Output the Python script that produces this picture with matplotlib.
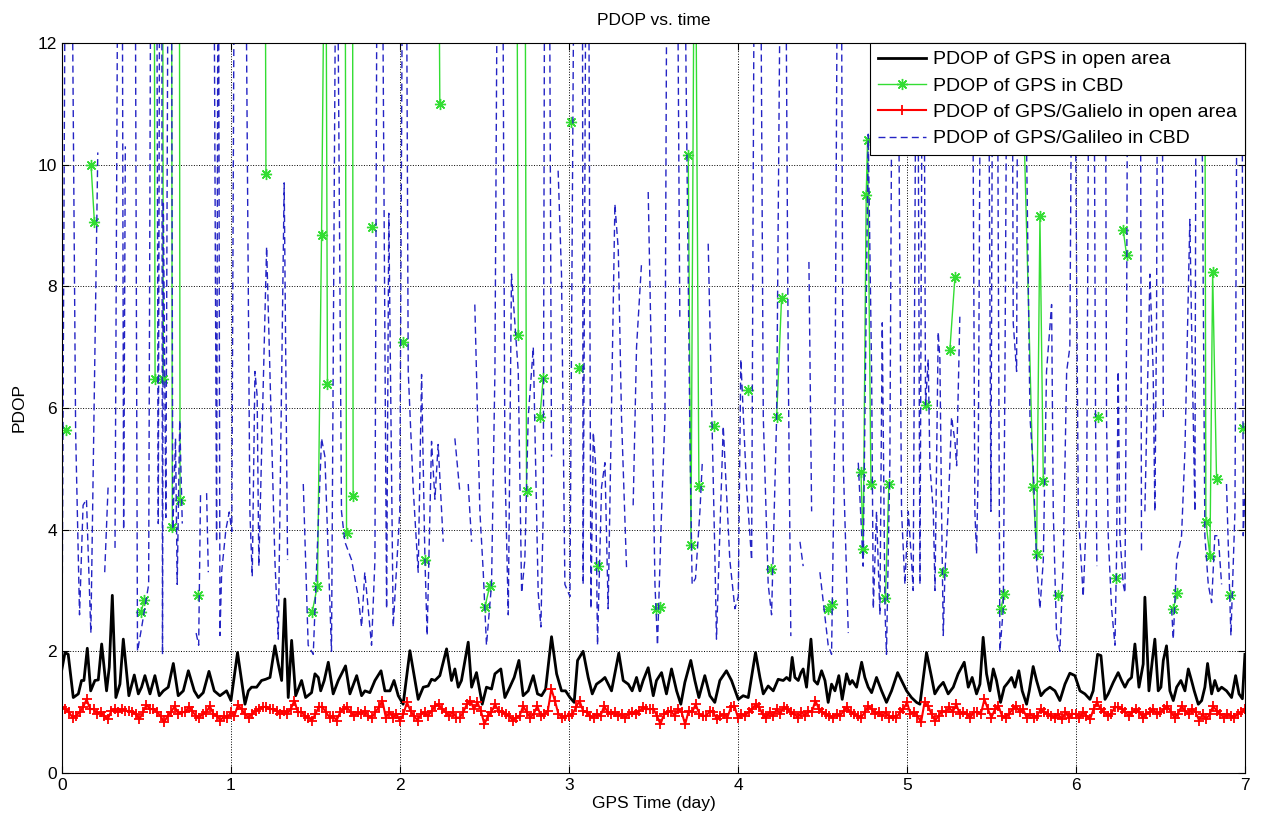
import matplotlib
matplotlib.use('Agg')
import matplotlib.pyplot as plt
import numpy as np

nan = np.nan

# PDOP of GPS in open area (vertices)
gps_open_t = [0.0, 0.018, 0.037, 0.067, 0.097, 0.116, 0.130, 0.150, 0.170, 0.195, 0.215, 0.235, 0.264, 0.280, 0.298, 0.319, 0.343, 0.363, 0.396, 0.428,
              0.452, 0.471, 0.491, 0.521, 0.550, 0.576, 0.600, 0.629, 0.659, 0.688, 0.718, 0.748, 0.783, 0.807, 0.836, 0.870, 0.901, 0.935, 0.974, 1.000,
              1.039, 1.063, 1.083, 1.103, 1.122, 1.152, 1.181, 1.205, 1.231, 1.260, 1.280, 1.300, 1.319, 1.339, 1.359, 1.383, 1.418, 1.442, 1.477, 1.497,
              1.517, 1.531, 1.552, 1.576, 1.605, 1.635, 1.678, 1.704, 1.744, 1.773, 1.793, 1.822, 1.852, 1.888, 1.911, 1.941, 1.965, 1.990,
              2.019, 2.059, 2.108, 2.138, 2.167, 2.187, 2.207, 2.236, 2.276, 2.305, 2.325, 2.345, 2.364, 2.404, 2.424, 2.453, 2.487, 2.512, 2.542, 2.562,
              2.597, 2.621, 2.650, 2.676, 2.704, 2.729, 2.759, 2.789, 2.814, 2.838, 2.862, 2.897, 2.927, 2.956, 2.980, 3.006, 3.031, 3.051, 3.084, 3.114,
              3.138, 3.163, 3.193, 3.213, 3.252, 3.295, 3.321, 3.351, 3.374, 3.400, 3.420, 3.439, 3.469, 3.499, 3.518, 3.548, 3.577, 3.607, 3.637, 3.662,
              3.686, 3.721, 3.745, 3.769, 3.804, 3.834, 3.863, 3.893, 3.932, 3.962, 4.002,
              4.031, 4.061, 4.104, 4.130, 4.150, 4.179, 4.209, 4.238, 4.268, 4.288, 4.307, 4.321, 4.337, 4.357, 4.373, 4.386, 4.406, 4.432, 4.451, 4.471,
              4.495, 4.515, 4.534, 4.554, 4.574, 4.597, 4.617, 4.643, 4.662, 4.676, 4.702, 4.732, 4.751, 4.771, 4.791, 4.820, 4.850, 4.879, 4.909, 4.945,
              4.968, 4.998, 5.027, 5.057, 5.077, 5.116, 5.146, 5.165, 5.189, 5.215, 5.244, 5.274, 5.303, 5.339, 5.363, 5.386, 5.412, 5.432, 5.451, 5.471,
              5.491, 5.511, 5.530, 5.554, 5.576, 5.599, 5.619, 5.639, 5.662, 5.682, 5.708, 5.724, 5.747, 5.767, 5.793, 5.816, 5.846, 5.876, 5.905, 5.935,
              5.964, 5.994, 6.024, 6.053, 6.083, 6.102, 6.128, 6.148, 6.172, 6.191, 6.221, 6.250, 6.270, 6.290, 6.310, 6.329, 6.349, 6.373, 6.398, 6.408,
              6.432, 6.452, 6.467, 6.487, 6.503, 6.517, 6.536, 6.556, 6.576, 6.596, 6.621, 6.645, 6.665, 6.684, 6.700, 6.724, 6.744, 6.763, 6.779, 6.803,
              6.822, 6.842, 6.862, 6.891, 6.921, 6.945, 6.965, 6.985, 7.0]
gps_open_v = [1.71, 1.98, 1.95, 1.24, 1.30, 1.52, 1.52, 2.05, 1.35, 1.52, 1.53, 2.12, 1.35, 1.74, 2.92, 1.24, 1.46, 2.20, 1.27, 1.61,
              1.30, 1.41, 1.60, 1.30, 1.60, 1.27, 1.35, 1.41, 1.80, 1.27, 1.35, 1.68, 1.35, 1.24, 1.32, 1.67, 1.35, 1.27, 1.35, 1.19,
              1.98, 1.52, 1.13, 1.35, 1.41, 1.41, 1.52, 1.54, 1.57, 2.09, 1.79, 1.52, 2.86, 1.24, 2.18, 1.27, 1.52, 1.24, 1.32, 1.63,
              1.57, 1.35, 1.52, 1.82, 1.30, 1.52, 1.76, 1.30, 1.60, 1.27, 1.35, 1.32, 1.52, 1.68, 1.35, 1.35, 1.52, 1.27,
              1.13, 2.01, 1.21, 1.41, 1.43, 1.54, 1.52, 1.60, 2.04, 1.52, 1.71, 1.41, 1.52, 2.15, 1.41, 1.65, 1.13, 1.41, 1.38, 1.63,
              1.71, 1.24, 1.41, 1.57, 1.85, 1.27, 1.35, 1.60, 1.30, 1.27, 1.38, 2.24, 1.63, 1.35, 1.35, 1.24, 1.16, 1.85, 2.00, 1.57,
              1.30, 1.46, 1.52, 1.57, 1.35, 1.97, 1.52, 1.46, 1.35, 1.57, 1.35, 1.52, 1.73, 1.27, 1.52, 1.65, 1.30, 1.71, 1.35, 1.13,
              1.49, 1.85, 1.52, 1.24, 1.60, 1.27, 1.16, 1.52, 1.68, 1.52, 1.21,
              1.27, 1.24, 1.98, 1.57, 1.30, 1.43, 1.35, 1.54, 1.52, 1.57, 1.52, 1.90, 1.57, 1.52, 1.65, 1.71, 1.41, 2.20, 1.52, 1.46,
              1.68, 1.52, 1.16, 1.46, 1.35, 1.60, 1.21, 1.63, 1.46, 1.52, 1.41, 1.82, 1.57, 1.41, 1.32, 1.57, 1.35, 1.16, 1.35, 1.65,
              1.52, 1.35, 1.24, 1.16, 1.13, 1.98, 1.57, 1.30, 1.41, 1.49, 1.30, 1.41, 1.63, 1.82, 1.41, 1.57, 1.30, 1.46, 2.23, 1.63,
              1.35, 1.71, 1.52, 1.16, 1.41, 1.49, 1.57, 1.41, 1.68, 1.35, 1.13, 1.35, 1.75, 1.52, 1.27, 1.35, 1.41, 1.35, 1.19, 1.46,
              1.64, 1.60, 1.35, 1.30, 1.21, 1.35, 1.95, 1.93, 1.21, 1.30, 1.49, 1.65, 1.52, 1.41, 1.52, 1.57, 2.12, 1.41, 1.79, 2.89,
              1.35, 1.85, 2.20, 1.35, 1.41, 1.85, 2.09, 1.35, 1.19, 1.41, 1.52, 1.35, 1.71, 1.52, 1.35, 1.13, 1.19, 1.41, 1.80, 1.30,
              1.52, 1.35, 1.41, 1.35, 1.24, 1.60, 1.30, 1.22, 1.95]

# PDOP of GPS in CBD (NaN = not available, 16 = off the top of the chart)
gps_cbd_t = [0.022, nan, 0.172, 0.192, nan, 0.468, 0.488, nan, 0.545, 0.551, nan, 0.595, 0.600, nan,
             0.648, 0.653, nan, 0.694, 0.699, nan, 0.807, nan, 1.201, 1.207, nan,
             1.481, 1.512, 1.536, 1.560, 1.571, nan, 1.674, 1.684, nan, 1.719, 1.723, nan, 1.832, nan,
             2.020, nan, 2.148, nan, 2.226, 2.236, nan, 2.503, 2.532, nan, 2.690, 2.700, nan, 2.739, 2.749, nan,
             2.828, 2.848, nan, 3.015, nan, 3.061, nan, 3.173, nan, 3.518, 3.538, nan,
             3.706, 3.722, 3.745, 3.769, nan, 3.858, nan, 4.060, nan, 4.195, nan, 4.229, 4.258, nan,
             4.534, 4.558, nan, 4.728, 4.741, 4.759, 4.767, 4.787, nan, 4.873, 4.893, nan,
             5.110, nan, 5.215, nan, 5.254, 5.284, nan, 5.556, 5.576, nan,
             5.680, 5.747, 5.767, 5.787, 5.807, nan, 5.895, nan, 6.128, nan, 6.235, nan, 6.280, 6.300, nan,
             6.576, 6.601, nan, 6.760, 6.769, 6.793, 6.809, 6.832, nan, 6.911, nan, 6.990]
gps_cbd_v = [5.63, nan, 10.0, 9.06, nan, 2.65, 2.85, nan, 16, 6.47, nan, 16, 6.47, nan,
             16, 4.05, nan, 16, 4.48, nan, 2.92, nan, 16, 9.84, nan,
             2.65, 3.08, 8.85, 16, 6.39, nan, 16, 3.94, nan, 16, 4.56, nan, 8.98, nan,
             7.09, nan, 3.5, nan, 16, 11.0, nan, 2.73, 3.08, nan, 16, 7.2, nan, 16, 4.64, nan,
             5.85, 6.5, nan, 10.7, nan, 6.65, nan, 3.4, nan, 2.7, 2.72, nan,
             10.15, 3.74, 16, 4.72, nan, 5.7, nan, 6.3, nan, 3.35, nan, 5.85, 7.8, nan,
             2.7, 2.77, nan, 4.95, 3.68, 9.5, 10.4, 4.75, nan, 2.88, 4.75, nan,
             6.05, nan, 3.3, nan, 6.95, 8.15, nan, 2.7, 2.95, nan,
             11.95, 4.7, 3.6, 9.15, 4.8, nan, 2.92, nan, 5.85, nan, 3.2, nan, 8.92, 8.51, nan,
             2.7, 2.96, nan, 16, 4.13, 3.56, 8.24, 4.83, nan, 2.92, nan, 5.67]

# PDOP of GPS/Galileo in open area, one sample every 30 min
galileo_open_v = [
    1.08, 1.05, 1.0, 0.91, 0.94, 1.0, 1.08, 1.21, 1.05, 1.05, 0.97, 1.0, 0.94, 0.88, 1.02, 1.05, 1.0, 1.05, 1.02, 1.02, 1.0, 0.97, 0.88, 1.0,
    1.12, 1.05, 1.05, 1.0, 0.94, 0.83, 0.94, 1.0, 1.10, 0.97, 1.0, 1.0, 1.09, 1.02, 0.94, 0.91, 0.97, 1.0, 1.10, 0.97, 0.94, 0.86, 0.94, 0.91,
    1.0, 0.94, 1.12, 1.05, 0.97, 0.91, 0.97, 1.02, 1.05, 1.08, 1.09, 1.05, 1.05, 1.02, 0.97, 1.02, 0.97, 1.05, 1.19, 1.0, 1.0, 0.94, 0.91, 0.86,
    0.97, 1.09, 1.08, 1.0, 0.91, 0.94, 0.86, 1.0, 1.05, 1.08, 1.0, 0.94, 1.0, 0.97, 1.02, 0.94, 0.91, 1.0, 1.08, 1.19, 0.91, 1.0, 0.91, 0.97,
    0.86, 0.97, 1.16, 1.02, 0.94, 0.86, 0.97, 1.0, 0.94, 1.02, 1.10, 1.13, 1.05, 1.0, 0.94, 1.0, 0.91, 0.91, 1.0, 1.13, 1.19, 1.05, 1.16, 1.02,
    0.80, 0.94, 1.0, 1.13, 1.02, 1.0, 0.97, 0.94, 0.86, 0.91, 0.94, 1.10, 1.0, 0.91, 0.97, 1.10, 0.94, 0.97, 1.02, 1.38, 1.19, 0.97, 0.91, 0.94,
    0.94, 0.97, 1.08, 1.19, 1.02, 1.0, 0.94, 0.91, 0.97, 0.94, 1.10, 1.0, 0.97, 1.0, 0.94, 0.97, 0.91, 0.97, 1.0, 0.97, 1.02, 1.08, 1.05, 1.05,
    1.05, 0.94, 0.80, 0.97, 1.0, 1.02, 0.94, 1.05, 1.0, 0.80, 1.02, 1.0, 1.13, 0.97, 0.94, 0.94, 1.02, 1.0, 0.88, 0.94, 0.97, 0.91, 1.08, 1.10,
    0.91, 0.97, 0.94, 1.0, 1.05, 1.13, 1.08, 0.97, 0.91, 1.0, 0.94, 1.05, 0.97, 1.08, 1.05, 1.0, 0.97, 0.91, 1.0, 0.94, 1.02, 1.0, 1.19, 1.05,
    1.0, 0.97, 0.94, 0.91, 0.97, 0.94, 1.02, 1.08, 1.0, 0.97, 0.94, 0.91, 1.0, 1.10, 1.05, 0.97, 1.0, 0.94, 1.0, 0.91, 0.94, 0.91, 1.0, 1.05,
    1.16, 0.97, 1.0, 0.94, 0.83, 1.16, 1.10, 0.97, 0.86, 0.94, 1.02, 1.0, 1.08, 1.0, 1.13, 0.97, 1.0, 0.97, 0.91, 1.0, 1.0, 0.97, 1.21, 1.05,
    0.91, 1.05, 1.10, 0.94, 0.91, 0.97, 1.05, 1.10, 1.0, 1.05, 0.91, 0.97, 0.91, 0.94, 1.05, 1.0, 0.97, 0.94, 0.91, 0.97, 0.88, 1.0, 0.91, 0.97,
    0.97, 0.91, 1.0, 0.94, 0.88, 1.05, 1.16, 1.05, 1.0, 0.94, 0.97, 1.08, 1.08, 1.05, 1.0, 0.94, 1.0, 1.05, 1.0, 0.91, 0.97, 1.0, 1.05, 0.97,
    1.0, 1.05, 1.10, 1.0, 0.91, 0.97, 1.10, 1.02, 0.97, 1.05, 1.0, 0.86, 0.97, 0.88, 0.97, 1.10, 1.02, 0.97, 0.91, 0.97, 0.94, 0.91, 0.97, 1.0,
    1.05]
galileo_open_t = np.arange(len(galileo_open_v)) / 48.0

# PDOP of GPS/Galileo in CBD (NaN = gap, 16 = off the top)
galileo_cbd_t = [0.002, 0.023, 0.053, 0.081, 0.104, 0.125, 0.145, 0.171, 0.212, nan, 0.253, 0.273, nan,
                 0.314, 0.334, 0.355, 0.365, 0.375, nan, 0.431, 0.447, 0.472, 0.513, 0.528, 0.559, 0.570, 0.580, 0.590, 0.595, 0.600,
                 0.615, 0.631, 0.646, 0.656, 0.672, 0.682, 0.697, 0.712, nan, 0.794, 0.809, 0.820, nan, 0.856, 0.866, nan,
                 0.896, 0.915, 0.925, 0.935, 0.945, 0.970, 0.990, 1.005, 1.023,
                 1.082, 1.112, 1.126, 1.142, 1.155, 1.165, 1.211, 1.260, 1.280, 1.315, 1.335, nan,
                 1.428, 1.457, 1.487, 1.536, 1.556, 1.595, 1.625, 1.654, 1.674, 1.714, 1.753, 1.773, 1.792, 1.832, 1.852, 1.867,
                 1.891, 1.921, 1.934, 1.960, 1.999, 2.019,
                 2.035, 2.049, 2.078, 2.108, 2.128, 2.148, 2.161, 2.187, 2.207, 2.226, 2.256, nan, 2.325, 2.355, nan, 2.404, 2.424, nan,
                 2.443, 2.473, 2.493, 2.512, 2.542, 2.562, 2.581, 2.605, 2.621, 2.641, 2.660, 2.700, 2.720, 2.739, 2.759, 2.789,
                 2.818, 2.834, 2.848, 2.858, 2.881, 2.897, nan, 2.936, 2.956, 2.976, 3.006, 3.035,
                 3.079, 3.084, 3.104, 3.114, 3.130, 3.144, 3.157, 3.169, 3.193, 3.213, 3.232, 3.272, 3.292, 3.311, 3.341, nan,
                 3.380, 3.400, 3.430, nan, 3.469, 3.489, 3.509, 3.524, 3.548, 3.568, 3.583, 3.637, 3.656, nan,
                 3.676, 3.716, 3.729, 3.749, 3.775, 3.789, nan, 3.824, 3.864, 3.873, 3.913, 3.952, 3.982, 4.002, 4.017, 4.051,
                 4.071, 4.081, 4.100,
                 4.130, 4.150, 4.179, 4.199, 4.229, 4.258, 4.278, 4.298, 4.313, nan, 4.367, 4.386, nan, 4.420, 4.436, nan,
                 4.485, 4.534, 4.554, 4.574, 4.593, 4.609, 4.623, 4.653, nan,
                 4.712, 4.741, 4.771, 4.791, 4.801, 4.820, 4.840, 4.854, 4.870, 4.879, 4.899, 4.919, 4.939, 4.968, 4.988, 5.008,
                 5.027, 5.037, 5.060, 5.077, 5.096, 5.110, 5.126, 5.136, 5.156, 5.166, 5.185, 5.195, 5.205, 5.215, 5.225, 5.244,
                 5.264, 5.284, 5.294, 5.313, nan,
                 5.382, 5.402, 5.412, 5.422, 5.442, 5.477, 5.497, 5.511, 5.530, 5.550, 5.570, 5.580, 5.599, 5.619, 5.629, 5.649,
                 5.659, 5.682, 5.728, 5.747, 5.767, 5.787, 5.807, 5.826, 5.856, 5.866, 5.885, 5.905, 5.925, 5.945, 5.964, 5.984,
                 6.014, 6.043, 6.063, 6.083, 6.102, 6.116, 6.124, nan,
                 6.171, 6.181, 6.191, 6.211, 6.231, 6.240, 6.250, 6.260, 6.280, 6.290, 6.300, 6.310, 6.379, 6.388, nan,
                 6.408, 6.438, 6.457, 6.467, 6.477, 6.487, 6.507, 6.517, nan,
                 6.566, 6.576, 6.596, 6.625, 6.645, 6.674, 6.684, 6.704, 6.714, 6.734, 6.763, 6.783, 6.803, 6.822, 6.842, 6.862, nan,
                 6.891, 6.917, 6.941, 6.960, 6.980, 6.990, 7.0]
galileo_cbd_v = [3.1, 16, 16, 5.6, 2.6, 4.4, 4.5, 2.3, 10.2, nan, 3.3, 4.7, nan,
                 3.7, 16, 16, 4.0, 10.3, nan, 16, 2.0, 2.4, 3.1, 16, 16, 4.1, 16, 16, 1.95, 9.4,
                 4.2, 16, 16, 4.0, 5.5, 3.1, 5.8, 4.1, nan, 2.3, 2.1, 4.6, nan, 4.6, 3.3, nan,
                 16, 3.8, 16, 2.26, 3.3, 4.0, 4.29, 3.97, 16,
                 16, 4.3, 3.23, 6.6, 6.2, 3.4, 8.65, 3.5, 2.2, 9.7, 3.5, nan,
                 4.75, 2.1, 1.95, 5.5, 5.2, 2.0, 16, 4.3, 3.8, 3.5, 2.9, 2.4, 3.3, 2.1, 3.5, 16,
                 16, 2.7, 9.2, 2.4, 4.3, 16,
                 16, 6.6, 4.7, 3.3, 6.55, 3.5, 2.26, 5.45, 4.5, 5.4, 3.8, nan, 5.5, 4.6, nan, 4.75, 3.8, nan,
                 7.7, 4.3, 3.3, 2.1, 3.1, 6.6, 16, 16, 5.1, 2.6, 8.2, 6.6, 2.96, 3.5, 5.85, 7.0,
                 2.96, 2.4, 4.3, 16, 16, 5.2, nan, 9.9, 8.2, 3.1, 2.9, 16,
                 16, 3.1, 16, 16, 2.7, 5.6, 5.1, 2.1, 4.7, 5.1, 2.7, 9.35, 8.6, 5.85, 3.35, nan,
                 4.4, 7.0, 8.4, nan, 9.55, 6.6, 3.1, 2.1, 4.3, 5.85, 16, 16, 7.5, nan,
                 16, 5.45, 3.1, 3.2, 4.3, 5.1, nan, 8.7, 3.5, 2.2, 5.7, 3.5, 2.7, 2.9, 6.8, 4.7,
                 3.9, 3.5, 16,
                 16, 5.85, 3.1, 2.6, 5.85, 16, 16, 6.6, 2.25, nan, 3.8, 3.4, nan, 8.4, 4.3, nan,
                 3.3, 2.1, 1.95, 5.85, 16, 16, 5.1, 2.3, nan,
                 5.1, 3.4, 10.5, 6.6, 2.7, 4.3, 2.6, 7.4, 2.7, 1.95, 5.1, 16, 16, 4.3, 3.1, 4.3,
                 3.5, 3.0, 16, 3.1, 16, 6.05, 6.8, 5.05, 4.3, 3.0, 7.25, 6.8, 4.3, 2.26, 3.3, 4.3,
                 5.85, 5.45, 5.05, 7.5, nan,
                 16, 4.3, 3.6, 5.05, 16, 16, 4.3, 16, 16, 2.0, 2.7, 6.6, 16, 16, 7.4, 6.6,
                 16, 16, 5.85, 5.05, 3.5, 2.7, 3.5, 6.6, 7.7, 4.3, 2.3, 2.0, 3.5, 6.6, 7.0, 16,
                 4.3, 2.9, 4.3, 16, 16, 5.85, 3.4, nan,
                 16, 5.85, 3.9, 2.7, 2.1, 3.5, 6.6, 3.9, 3.1, 2.96, 7.4, 16, 16, 3.65, nan,
                 4.3, 8.2, 6.6, 4.3, 7.4, 16, 16, 5.85, nan,
                 2.7, 2.2, 3.5, 3.9, 5.3, 9.1, 7.4, 4.3, 16, 16, 3.9, 3.1, 2.8, 3.9, 3.9, 3.1, nan,
                 4.75, 2.26, 4.3, 16, 16, 3.9, 4.6]

labels = ['PDOP of GPS in open area', 'PDOP of GPS in CBD',
          'PDOP of GPS/Galielo in open area', 'PDOP of GPS/Galileo in CBD']

plt.rcParams['font.family'] = ['Liberation Sans', 'DejaVu Sans']

fig = plt.figure(figsize=(12.8, 8.26), dpi=100)
ax = fig.add_axes([0.0484, 0.0642, 0.9242, 0.8838])

# MATLAB-style '*' marker: eight thin spokes
asterisk = (8, 2, 0)

ax.plot(gps_open_t, gps_open_v, color='black', lw=2.0, label=labels[0])
ax.plot(gps_cbd_t, gps_cbd_v, color='#33dd33', lw=1.0, marker=asterisk, ms=8, mew=1.0, label=labels[1])
ax.plot(galileo_open_t, galileo_open_v, color='red', lw=1.5, marker='+', ms=7, mew=1.3, label=labels[2])
ax.plot(galileo_cbd_t, galileo_cbd_v, color='#2424c4', lw=1.0, ls=(0, (5, 3)), label=labels[3])

ax.set_xlim(0, 7)
ax.set_ylim(0, 12)
ax.set_xticks(range(8))
ax.set_yticks(range(0, 13, 2))
ax.tick_params(direction='in', top=True, right=True, length=5, labelsize=12.5)
ax.grid(True, linestyle=':', color='black', linewidth=0.7)

ax.set_title('PDOP vs. time', fontsize=12.5, pad=13)
ax.set_xlabel('GPS Time (day)', fontsize=12.5, labelpad=2)
ax.set_ylabel('PDOP', fontsize=12.5, labelpad=8)

leg = ax.legend(loc='upper right', fontsize=14, fancybox=False, edgecolor='black', framealpha=1,
                borderaxespad=0, handlelength=2.5, borderpad=0.4, labelspacing=0.45, handletextpad=0.35)
leg.get_frame().set_linewidth(0.8)

fig.savefig('out.png', dpi=100)
